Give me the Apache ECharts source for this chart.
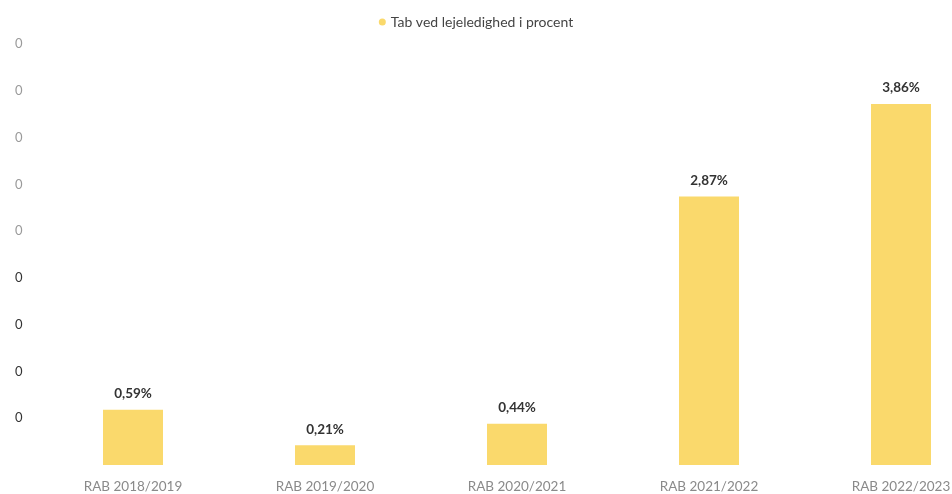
<!DOCTYPE html>
<html>
<head>
<meta charset="utf-8">
<script src="https://cdn.jsdelivr.net/npm/echarts@6/dist/echarts.min.js"></script>
<style>
  html, body { margin: 0; padding: 0; background: #fff; }
  #chart { width: 952px; height: 494px; }
</style>
</head>
<body>
<div id="chart"></div>
<script>
// Loss from vacancy, per RAB year, in percent
const categories = ['RAB 2018/2019', 'RAB 2019/2020', 'RAB 2020/2021', 'RAB 2021/2022', 'RAB 2022/2023'];
const lossPct = [0.59, 0.21, 0.44, 2.87, 3.86];
const seriesName = 'Tab ved lejeledighed i procent';

const chart = echarts.init(document.getElementById('chart'));
const fontFamily = 'Lato, "Open Sans", sans-serif';

chart.setOption({
  animation: false,
  textStyle: { fontFamily },
  legend: {
    top: 10,
    left: 'center',
    icon: 'circle',
    itemWidth: 7,
    itemHeight: 7,
    itemGap: 4,
    textStyle: { color: '#444', fontSize: 14, fontFamily },
    data: [seriesName]
  },
  grid: { left: 37, right: -45, top: 44, bottom: 29, outerBoundsMode: 'none', containLabel: false },
  xAxis: {
    type: 'category',
    data: categories,
    axisLine: { show: false },
    axisTick: { show: false },
    axisLabel: { color: '#8a8a8a', fontSize: 13.5, margin: 15, fontFamily }
  },
  yAxis: {
    type: 'value',
    min: 0,
    max: 4.5,
    interval: 0.5,
    splitLine: { show: false },
    axisLine: { show: false },
    axisTick: { show: false },
    axisLabel: {
      fontSize: 13,
      margin: 0,
      align: 'left',
      padding: [0, 0, 0, -22],
      fontFamily,
      color: (v) => (v > 2.25 ? '#9a9a9a' : '#333'),
      formatter: (v) => (v === 0 ? '' : '0')
    }
  },
  series: [{
    name: seriesName,
    type: 'bar',
    data: lossPct,
    barWidth: 60,
    itemStyle: { color: '#FAD96C' },
    label: {
      show: true,
      position: 'top',
      distance: 9,
      color: '#333',
      fontSize: 13.5,
      fontWeight: 'bold',
      fontFamily,
      formatter: (p) => p.value.toFixed(2).replace('.', ',') + '%'
    }
  }]
});
</script>
</body>
</html>
